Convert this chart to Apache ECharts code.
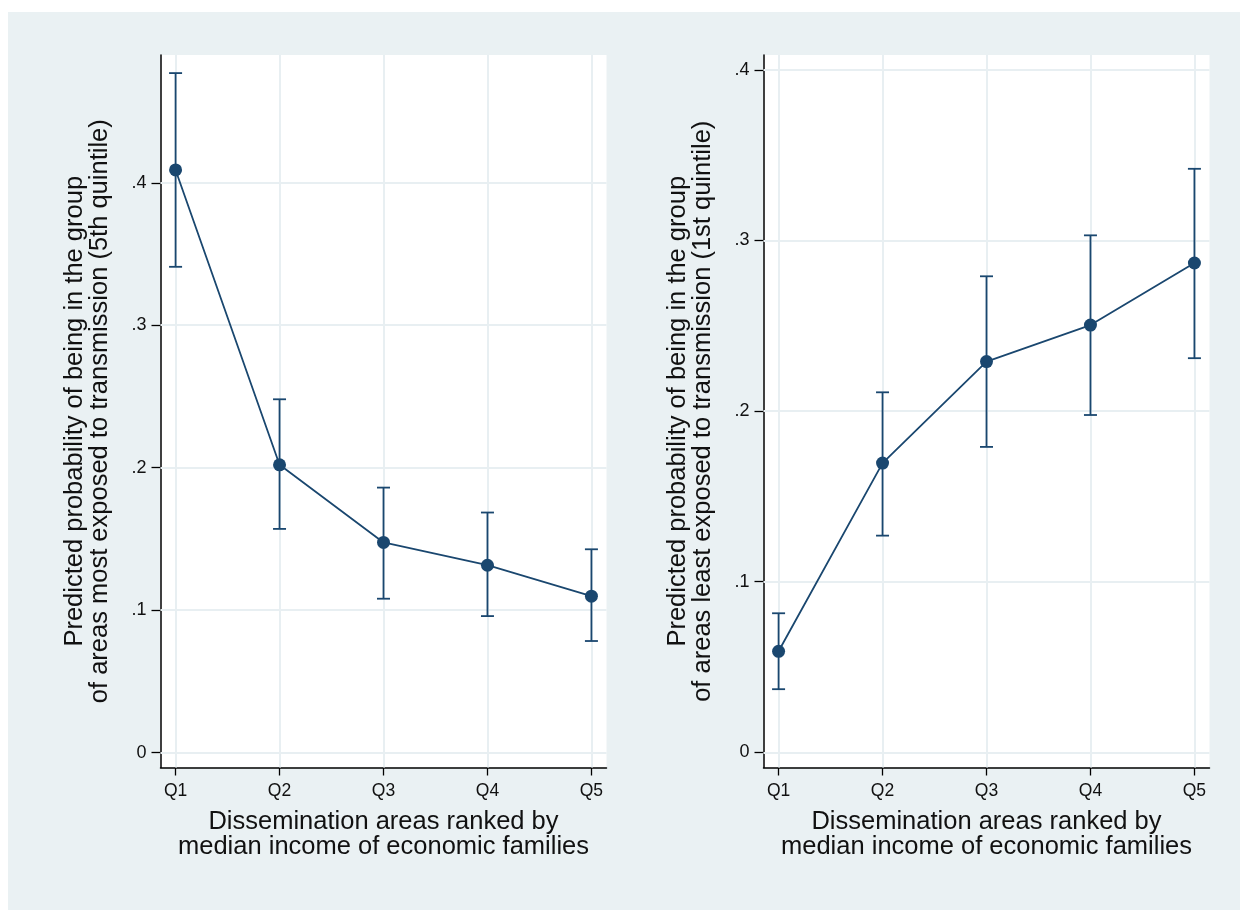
<!DOCTYPE html>
<html>
<head>
<meta charset="utf-8">
<script src="https://cdn.jsdelivr.net/npm/echarts@6/dist/echarts.min.js"></script>
<style>
html,body{margin:0;padding:0;background:#fff;}
#chart{width:1240px;height:910px;}
</style>
</head>
<body>
<div id="chart"></div>
<script>
const categories = ['Q1','Q2','Q3','Q4','Q5'];
const xPositions = [1,2,3,4,5];
const yTicks = [0,0.1,0.2,0.3,0.4];

const leftEstimate = [0.409, 0.202, 0.1475, 0.1315, 0.1098];
const leftLower    = [0.341, 0.157, 0.108, 0.0958, 0.0783];
const leftUpper    = [0.477, 0.248, 0.186, 0.1685, 0.1427];

const rightEstimate = [0.0592, 0.1695, 0.229, 0.2504, 0.2868];
const rightLower    = [0.037, 0.127, 0.179, 0.1977, 0.231];
const rightUpper    = [0.0815, 0.211, 0.279, 0.303, 0.342];

const xTitle = 'Dissemination areas ranked by\nmedian income of economic families';
const leftYTitle = 'Predicted probability of being in the group\nof areas most exposed to transmission (5th quintile)';
const rightYTitle = 'Predicted probability of being in the group\nof areas least exposed to transmission (1st quintile)';

const NAVY = '#1a476f';
const GRIDC = '#e8eff2';
const FONT = '"Liberation Sans", Arial, Helvetica, sans-serif';

function fmtY(v){ if (Math.abs(v) < 1e-9) return '0'; return String(Math.round(v*10)/10).replace(/^0\./,'.'); }

function xAxisDef(gi){
  return {
    type:'value', gridIndex:gi, min:0.855, max:5.145,
    axisLine:{show:true, onZero:false, lineStyle:{color:'#000', width:1.5}},
    axisTick:{show:true, length:8, customValues:xPositions, lineStyle:{color:'#000', width:1.3}},
    axisLabel:{show:true, customValues:xPositions, margin:15, fontSize:17.5, color:'#111', fontFamily:FONT,
      formatter:(v)=>categories[Math.round(v)-1]},
    splitLine:{show:false},
    name:xTitle, nameLocation:'middle', nameGap:42,
    nameTextStyle:{fontSize:25.5, lineHeight:25, color:'#111', fontFamily:FONT, verticalAlign:'top'}
  };
}
function yAxisDef(gi, min, max, title){
  return {
    type:'value', gridIndex:gi, min:min, max:max,
    axisLine:{show:true, onZero:false, lineStyle:{color:'#000', width:1.5}},
    axisTick:{show:true, length:9, customValues:yTicks, lineStyle:{color:'#000', width:1.3}},
    axisLabel:{show:true, customValues:yTicks, margin:14, fontSize:18, color:'#111', fontFamily:FONT, formatter:fmtY},
    splitLine:{show:false},
    name:title, nameLocation:'middle', nameGap:48,
    nameTextStyle:{fontSize:25.5, lineHeight:25, color:'#111', fontFamily:FONT}
  };
}

function gridLinesSeries(gi){
  const lines = [];
  yTicks.forEach(v=>lines.push({yAxis:v}));
  xPositions.forEach(v=>lines.push({xAxis:v}));
  return {
    type:'line', xAxisIndex:gi, yAxisIndex:gi, data:[], silent:true, z:1,
    markLine:{silent:true, z:1, symbol:['none','none'], label:{show:false},
      lineStyle:{color:GRIDC, width:2, type:'solid'}, data:lines, animation:false}
  };
}

function errSeries(gi, lower, upper){
  return {
    type:'custom', xAxisIndex:gi, yAxisIndex:gi, z:10,
    data: xPositions.map((x,i)=>[x, lower[i], upper[i]]),
    renderItem:function(params, api){
      const lo = api.coord([api.value(0), api.value(1)]);
      const hi = api.coord([api.value(0), api.value(2)]);
      const hw = 6.5;
      const st = {stroke:NAVY, lineWidth:1.8, fill:null};
      return {type:'group', children:[
        {type:'line', shape:{x1:lo[0], y1:lo[1], x2:hi[0], y2:hi[1]}, style:st},
        {type:'line', shape:{x1:lo[0]-hw, y1:lo[1], x2:lo[0]+hw, y2:lo[1]}, style:st},
        {type:'line', shape:{x1:hi[0]-hw, y1:hi[1], x2:hi[0]+hw, y2:hi[1]}, style:st}
      ]};
    }
  };
}
function lineSeries(gi, est){
  return {
    type:'line', xAxisIndex:gi, yAxisIndex:gi, z:11,
    data: xPositions.map((x,i)=>[x, est[i]]),
    symbol:'circle', symbolSize:13, showSymbol:true,
    lineStyle:{color:NAVY, width:1.8}, itemStyle:{color:NAVY}
  };
}

const chart = echarts.init(document.getElementById('chart'), null, {renderer:'canvas'});
chart.setOption({
  animation:false,
  backgroundColor:'#ffffff',
  graphic:[{type:'rect', shape:{x:8, y:12, width:1232, height:898}, style:{fill:'#eaf1f3'}, z:-10, silent:true}],
  grid:[
    {left:160.5, top:55, width:446, height:712.5, show:true, backgroundColor:'#fff', borderWidth:0},
    {left:763.5, top:55, width:446, height:712.5, show:true, backgroundColor:'#fff', borderWidth:0}
  ],
  xAxis:[xAxisDef(0), xAxisDef(1)],
  yAxis:[yAxisDef(0, -0.0105, 0.4897, leftYTitle), yAxisDef(1, -0.0089, 0.4087, rightYTitle)],
  series:[
    gridLinesSeries(0), gridLinesSeries(1),
    errSeries(0, leftLower, leftUpper), errSeries(1, rightLower, rightUpper),
    lineSeries(0, leftEstimate), lineSeries(1, rightEstimate)
  ]
});
</script>
</body>
</html>
